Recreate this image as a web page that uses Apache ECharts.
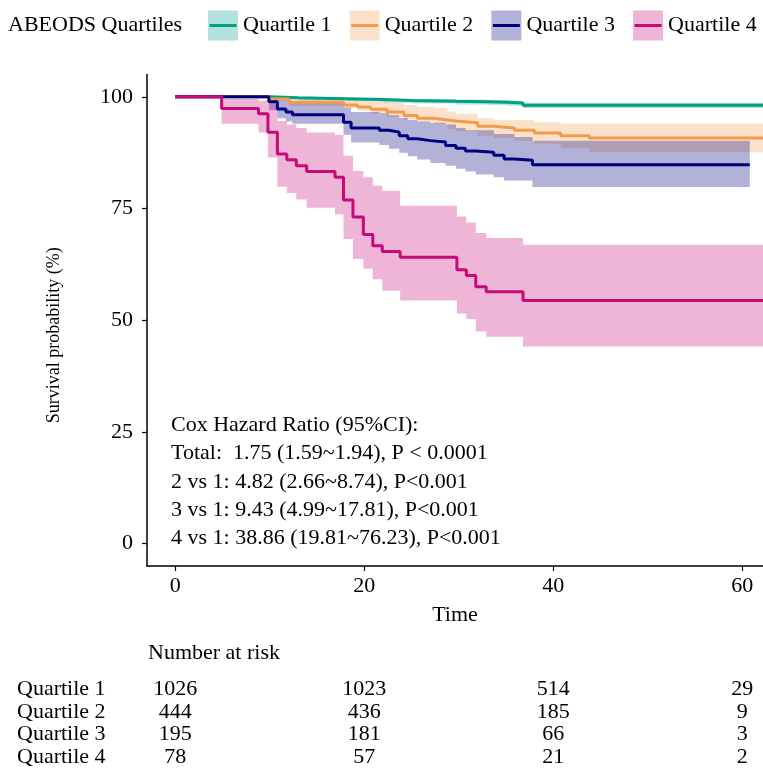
<!DOCTYPE html>
<html><head><meta charset="utf-8">
<script src="https://cdn.jsdelivr.net/npm/echarts@6/dist/echarts.min.js"></script>
<style>html,body{margin:0;padding:0;background:#fff}#c{width:763px;height:773px}</style>
</head><body><div id="c"></div>
<script>
// ---------- data ----------
const groupNames = ['Quartile 1', 'Quartile 2', 'Quartile 3', 'Quartile 4'];
const legendTitle = 'ABEODS Quartiles';

const time1 = [0, 10.0, 13.0, 18.0, 22.0, 25.0, 29.7, 33.0, 35.2, 36.8, 63];
const surv1 = [100, 99.8, 99.6, 99.4, 99.2, 99.0, 98.9, 98.8, 98.6, 98.1, 98.1];
const low1  = [100, 99.5, 99.2, 99.0, 98.7, 98.5, 98.3, 98.2, 98.0, 97.5, 97.5];
const up1   = [100, 100, 99.9, 99.8, 99.6, 99.5, 99.4, 99.3, 99.1, 98.7, 98.7];

const time2 = [0, 9.9, 12.0, 17.8, 19.3, 20.7, 22.4, 24.2, 25.6, 27.4, 28.8, 29.7, 32.0, 33.7, 35.9, 38.0, 40.8, 43.8, 63];
const surv2 = [100, 99.5, 98.8, 98.2, 97.7, 97.2, 96.6, 95.8, 95.2, 94.8, 94.6, 94.2, 93.4, 93.0, 92.5, 91.9, 91.3, 90.8, 90.8];
const low2  = [100, 99.0, 98.0, 97.5, 96.9, 96.2, 95.5, 94.9, 94.4, 93.9, 92.8, 92.3, 91.3, 90.8, 90.2, 89.5, 88.5, 87.6, 87.6];
const up2   = [100, 100, 99.7, 99.4, 99.2, 99.0, 98.7, 98.2, 97.8, 97.5, 96.7, 96.2, 95.2, 94.8, 94.8, 94.3, 94.0, 94.0, 94.0];

const time3 = [0, 9.9, 10.8, 11.7, 12.4, 17.8, 18.6, 21.6, 22.6, 23.7, 24.6, 25.6, 27.0, 28.6, 29.7, 30.7, 31.8, 33.7, 34.8, 35.9, 37.8, 60.8];
const surv3 = [100, 98.9, 97.3, 96.6, 96.0, 94.3, 93.0, 92.5, 92.1, 91.3, 90.6, 90.2, 89.9, 89.1, 88.5, 87.9, 87.6, 86.9, 86.1, 85.8, 84.8, 84.8];
const low3  = [100, 97.0, 95.2, 94.5, 94.0, 91.5, 89.8, 89.2, 88.4, 87.5, 86.7, 86.0, 85.2, 84.6, 83.9, 83.3, 82.6, 82.0, 81.3, 81.3, 79.8, 79.8];
const up3   = [100, 100, 99.5, 99.2, 98.8, 97.6, 96.6, 96.3, 95.9, 95.3, 94.8, 94.5, 94.2, 93.8, 93.0, 92.5, 92.5, 91.7, 91.7, 91.0, 90.2, 90.2];

const time4 = [0, 4.9, 8.8, 9.8, 10.8, 11.8, 12.8, 13.9, 16.9, 17.8, 18.8, 19.9, 20.9, 21.9, 23.8, 29.8, 30.8, 31.8, 32.9, 36.8, 63];
const surv4 = [100, 97.4, 96.2, 92.1, 87.2, 85.9, 84.6, 83.3, 82.0, 76.9, 73.1, 69.2, 66.7, 65.4, 64.1, 61.3, 60.0, 57.5, 56.4, 54.4, 54.4];
const low4  = [100, 94.0, 92.0, 86.4, 79.9, 78.5, 77.0, 75.2, 73.7, 68.2, 63.7, 61.5, 59.2, 56.6, 54.4, 51.5, 50.3, 47.5, 46.3, 44.1, 44.1];
const up4   = [100, 99.5, 99.1, 98.5, 94.6, 93.8, 93.0, 92.0, 91.5, 86.8, 83.4, 82.0, 80.1, 79.0, 75.6, 73.2, 71.9, 69.5, 68.4, 66.9, 66.9];

const riskTimes = [0, 20, 40, 60];
const riskQ1 = [1026, 1023, 514, 29];
const riskQ2 = [444, 436, 185, 9];
const riskQ3 = [195, 181, 66, 3];
const riskQ4 = [78, 57, 21, 2];

const xTicks = [0, 20, 40, 60];
const yTicks = [0, 25, 50, 75, 100];

const coxLines = [
  'Cox Hazard Ratio (95%CI):',
  'Total:  1.75 (1.59~1.94), P < 0.0001',
  '2 vs 1: 4.82 (2.66~8.74), P<0.001',
  '3 vs 1: 9.43 (4.99~17.81), P<0.001',
  '4 vs 1: 38.86 (19.81~76.23), P<0.001'
];

// ---------- styling ----------
const lineColors = ['#00A087', '#F39B4B', '#000080', '#C8097A'];
const FONT = 'Liberation Serif, Times New Roman, serif';
function rgba(hex, a) {
  const n = parseInt(hex.slice(1), 16);
  return 'rgba(' + ((n >> 16) & 255) + ',' + ((n >> 8) & 255) + ',' + (n & 255) + ',' + a + ')';
}
const zip = (xs, ys) => xs.map((x, i) => [x, ys[i]]);

const groups = [
  {t: time1, s: surv1, lo: low1, hi: up1},
  {t: time2, s: surv2, lo: low2, hi: up2},
  {t: time3, s: surv3, lo: low3, hi: up3},
  {t: time4, s: surv4, lo: low4, hi: up4}
];
const riskRows = [riskQ1, riskQ2, riskQ3, riskQ4];

const XMIN = -3, XMAX = 62.2;

const series = [];
// confidence bands: one step-shaped polygon per group, drawn through the axis scales
groups.forEach((g, i) => {
  series.push({
    type: 'custom', name: groupNames[i] + ' CI', xAxisIndex: 0, yAxisIndex: 0,
    data: g.t.map((t, k) => [t, g.lo[k], g.hi[k]]),
    encode: {x: 0, y: [1, 2]}, silent: true, z: 1, clip: true,
    renderItem: function (params, api) {
      if (params.dataIndex !== 0) return null;
      const n = g.t.length;
      const tc = k => Math.min(g.t[k], XMAX);
      const top = [], bot = [];
      for (let k = 0; k < n; k++) {
        const tEnd = k < n - 1 ? tc(k + 1) : tc(k);
        top.push(api.coord([tc(k), g.hi[k]]));
        top.push(api.coord([tEnd, g.hi[k]]));
        bot.push(api.coord([tc(k), g.lo[k]]));
        bot.push(api.coord([tEnd, g.lo[k]]));
      }
      const pts = top.concat(bot.reverse());
      return {type: 'polygon', shape: {points: pts},
              style: {fill: rgba(lineColors[i], 0.3), stroke: null}};
    }
  });
});
groups.forEach((g, i) => {
  series.push({
    type: 'line', name: groupNames[i], step: 'end', data: zip(g.t, g.s),
    symbol: 'none', lineStyle: {color: lineColors[i], width: 3},
    z: 3, xAxisIndex: 0, yAxisIndex: 0
  });
});
// risk table (numbers placed through the second grid's axes)
const riskData = [];
riskRows.forEach((row, gi) => row.forEach((v, j) => riskData.push([riskTimes[j], gi, v])));
series.push({
  type: 'custom', name: 'risk', xAxisIndex: 1, yAxisIndex: 1, data: riskData,
  encode: {x: 0, y: 1}, silent: true, clip: false,
  renderItem: function (params, api) {
    const p = api.coord([api.value(0), api.value(1)]);
    return {type: 'text', x: p[0], y: p[1],
      style: {text: String(api.value(2)), font: '22px ' + FONT, fill: '#000',
              align: 'center', verticalAlign: 'middle'}};
  }
});

// legend graphics
const graphic = [{
  type: 'text', x: 8, y: 25.5,
  style: {text: legendTitle, font: '22px ' + FONT, fill: '#000', verticalAlign: 'middle'}
}];
groupNames.forEach((n, i) => {
  const x0 = 208 + i * 141.7;
  graphic.push({type: 'rect', x: x0, y: 10.5, shape: {x: 0, y: 0, width: 30, height: 30},
    style: {fill: rgba(lineColors[i], 0.3)}});
  graphic.push({type: 'line', x: x0, y: 25.5, shape: {x1: 1.5, y1: 0, x2: 28.5, y2: 0},
    style: {stroke: lineColors[i], lineWidth: 3}});
  graphic.push({type: 'text', x: x0 + 35, y: 25.5,
    style: {text: n, font: '22px ' + FONT, fill: '#000', verticalAlign: 'middle'}});
});
graphic.push({type: 'text', x: 171, y: 411,
  style: {text: coxLines.join('\n'), font: '22px ' + FONT, fill: '#000', lineHeight: 28.3}});
graphic.push({type: 'text', x: 148, y: 653,
  style: {text: 'Number at risk', font: '22px ' + FONT, fill: '#000', verticalAlign: 'middle'}});

const axisTxt = {fontSize: 22, fontFamily: FONT, color: '#000'};

const chart = echarts.init(document.getElementById('c'), null, {renderer: 'canvas'});
chart.setOption({
  animation: false,
  backgroundColor: '#fff',
  grid: [
    {left: 147, right: 0, top: 74.5, bottom: 207, containLabel: false, outerBoundsMode: 'none'},
    {left: 147, right: 0, top: 678, height: 90, containLabel: false, outerBoundsMode: 'none'}
  ],
  xAxis: [
    {type: 'value', gridIndex: 0, min: XMIN, max: XMAX,
     name: 'Time', nameLocation: 'middle', nameGap: 38,
     nameTextStyle: {fontSize: 22, fontFamily: FONT, color: '#000'},
     axisLine: {show: true, onZero: false, lineStyle: {color: '#000', width: 1.5}},
     axisTick: {show: true, length: 5, lineStyle: {color: '#000', width: 1.2}, customValues: xTicks},
     axisLabel: Object.assign({margin: 9, customValues: xTicks}, axisTxt),
     splitLine: {show: false}},
    {type: 'value', gridIndex: 1, min: XMIN, max: XMAX, show: false}
  ],
  yAxis: [
    {type: 'value', gridIndex: 0, min: -5, max: 105,
     name: 'Survival probability (%)', nameLocation: 'middle', nameGap: 84,
     nameTextStyle: {fontSize: 18, fontFamily: FONT, color: '#000', padding: [0, 30, 0, 0]},
     axisLine: {show: true, onZero: false, lineStyle: {color: '#000', width: 1.5}},
     axisTick: {show: true, length: 5, lineStyle: {color: '#000', width: 1.2}, customValues: yTicks},
     axisLabel: Object.assign({margin: 14, customValues: yTicks}, axisTxt),
     splitLine: {show: false}},
    {type: 'category', gridIndex: 1, data: groupNames, inverse: true,
     axisLine: {show: false}, axisTick: {show: false}, splitLine: {show: false},
     axisLabel: Object.assign({align: 'left', margin: 130, interval: 0}, axisTxt)}
  ],
  graphic: graphic,
  series: series
});
</script>
</body></html>
